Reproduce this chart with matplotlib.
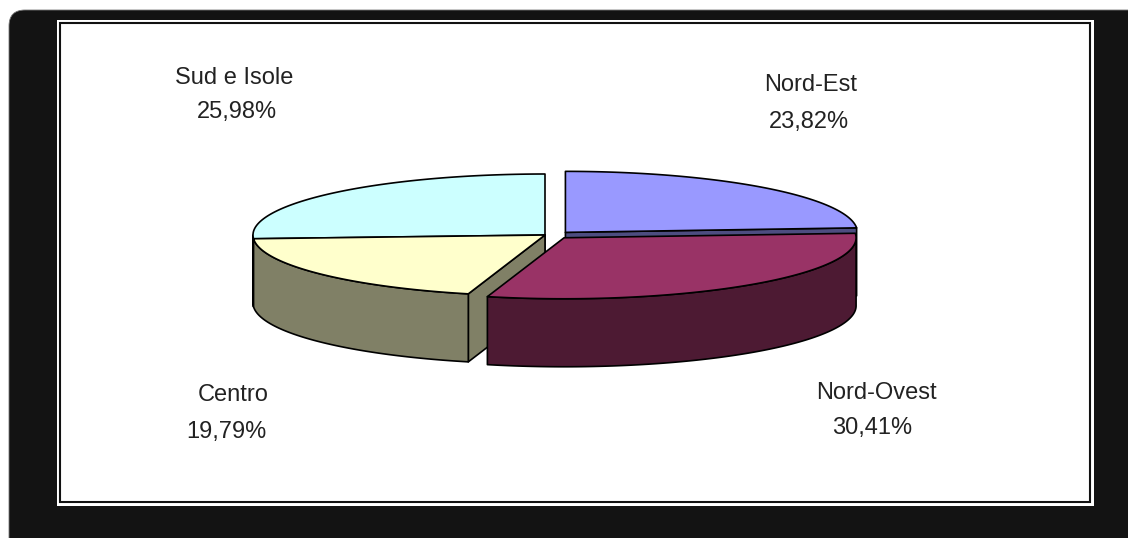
import numpy as np
import matplotlib.pyplot as plt
from matplotlib.patches import Polygon, Rectangle, FancyBboxPatch
from matplotlib.colors import to_rgb

# data
regions = ['Nord-Est', 'Nord-Ovest', 'Centro', 'Sud e Isole']
shares = [23.82, 30.41, 19.79, 25.98]
share_labels = ['23,82%', '30,41%', '19,79%', '25,98%']

# style
top_colors = ['#9999ff', '#993366', '#ffffcc', '#ccffff']
explode = [30, 30, 0, 0]
# (name x, name y, pct x, pct y) in pixels
label_pos = [(811, 85, 809, 122), (876, 393, 872, 428),
             (233, 395, 226, 432), (234, 78, 237, 112)]

cx, cy = 545, 235       # pie centre
rx, ry = 292, 61        # ellipse radii
depth = 68              # thickness of the pie
tilt = 0.12             # vertical share of the explode offset

fig = plt.figure(figsize=(11.28, 5.38), dpi=100)
ax = fig.add_axes([0, 0, 1, 1])
ax.set_xlim(0, 1128)
ax.set_ylim(538, 0)
ax.axis('off')

# dark surround and double frame
ax.add_patch(FancyBboxPatch((9, 10), 1200, 600, boxstyle='round,pad=0,rounding_size=16',
                            fc='#131313', ec='#777777', lw=0.6))
ax.add_patch(Rectangle((57, 20), 1037, 486, fc='white', ec='none'))
ax.add_patch(Rectangle((60, 23), 1030, 479, fill=False, ec='#111111', lw=1.5))


def arc(x0, y0, t1, t2, dz=0, n=120):
    t = np.radians(np.linspace(t1, t2, n))
    return np.column_stack([x0 + rx * np.cos(t), y0 - ry * np.sin(t) + dz])


# slice angles, clockwise from 12 o'clock
slices = []
start = 90.0
for i, v in enumerate(shares):
    a0 = start
    a1 = start - v * 3.6
    start = a1
    mid = np.radians((a0 + a1) / 2)
    px = cx + explode[i] * np.cos(mid)
    py = cy - explode[i] * np.sin(mid) * tilt
    slices.append((np.sin(mid), i, a0, a1, px, py))

# back slices first
slices.sort(key=lambda s: -s[0])

ekw = dict(ec='black', lw=1.2, joinstyle='round')
for _, i, a0, a1, px, py in slices:
    top = top_colors[i]
    side = tuple(c * 0.5 for c in to_rgb(top))

    # radial cut faces that look towards the viewer
    for ang, show in ((a0, np.cos(np.radians(a0)) < -1e-6),
                      (a1, np.cos(np.radians(a1)) > 1e-6)):
        if show:
            ex, ey = arc(px, py, ang, ang, n=1)[0]
            face = [(px, py), (ex, ey), (ex, ey + depth), (px, py + depth)]
            ax.add_patch(Polygon(face, closed=True, fc=side, **ekw))

    # outer wall on the front half
    for k in (-1, 0, 1):
        lo = max(a1, -180 + 360 * k)
        hi = min(a0, 0 + 360 * k)
        if hi > lo:
            up = arc(px, py, lo, hi)
            down = arc(px, py, hi, lo, dz=depth)
            ax.add_patch(Polygon(np.vstack([up, down]), closed=True, fc=side, **ekw))

    # top surface
    pts = np.vstack([[(px, py)], arc(px, py, a1, a0)])
    ax.add_patch(Polygon(pts, closed=True, fc=top, **ekw))

for i, (nx, ny, qx, qy) in enumerate(label_pos):
    ax.text(nx, ny, regions[i], ha='center', va='center', fontsize=17,
            family='Liberation Sans', color='#222222')
    ax.text(qx, qy, share_labels[i], ha='center', va='center', fontsize=17,
            family='Liberation Sans', color='#222222')

fig.savefig('out.png', dpi=100, facecolor='white')
